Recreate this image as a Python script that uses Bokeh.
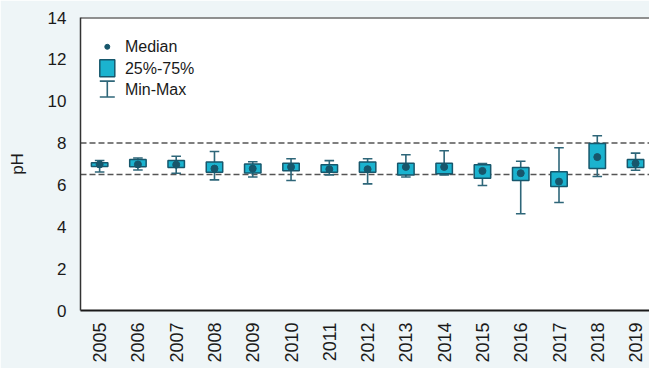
import numpy as np
from bokeh.plotting import figure
from bokeh.models import Range1d, FixedTicker, Span, ColumnDataSource
from bokeh.embed import file_html
from bokeh.resources import INLINE
from bokeh.core.properties import value

# ---- data ----
years = ["2005", "2006", "2007", "2008", "2009", "2010", "2011", "2012",
         "2013", "2014", "2015", "2016", "2017", "2018", "2019"]
median = [6.98, 6.98, 6.97, 6.78, 6.78, 6.86, 6.75, 6.75, 6.86, 6.86, 6.67, 6.56, 6.16, 7.33, 7.03]
q25 = [6.88, 6.87, 6.83, 6.60, 6.57, 6.68, 6.60, 6.60, 6.48, 6.54, 6.32, 6.21, 5.92, 6.78, 6.83]
q75 = [7.06, 7.22, 7.17, 7.10, 7.00, 7.03, 6.97, 7.10, 7.03, 7.03, 6.97, 6.83, 6.63, 7.98, 7.21]
vmin = [6.62, 6.71, 6.56, 6.24, 6.38, 6.21, 6.48, 6.05, 6.38, 6.48, 5.97, 4.62, 5.16, 6.40, 6.70]
vmax = [7.17, 7.29, 7.37, 7.60, 7.11, 7.25, 7.16, 7.25, 7.44, 7.63, 7.02, 7.13, 7.78, 8.35, 7.52]
limits = [6.5, 8.0]
y_ticks = [0, 2, 4, 6, 8, 10, 12, 14]
legend_labels = ["Median", "25%-75%", "Min-Max"]

# ---- style ----
FONT = "Liberation Sans"
BG = "#EEF5F7"
FILL = "#1BB3CF"
LINE = "#17576C"
MED = "#17566B"
WHISK = "#2E6679"
TXT = "#1a1a1a"
BOX_W = 0.43
CAP_W = 0.25

x = np.arange(len(years))
src = ColumnDataSource(dict(
    x=x, med=median, q1=q25, q3=q75, lo=vmin, hi=vmax,
    cl=x - CAP_W / 2, cr=x + CAP_W / 2,
))

p = figure(width=649, height=368,
           x_range=Range1d(-0.5, 14.364), y_range=Range1d(0, 14),
           output_backend="svg", toolbar_location=None,
           min_border_left=80, min_border_right=0,
           min_border_top=17, min_border_bottom=58,
           background_fill_color="white", border_fill_color=BG,
           outline_line_color=None)
p.grid.visible = False

for lim in limits:
    p.add_layout(Span(location=lim, dimension="width", line_color="#555555",
                      line_width=1.5, line_dash="6 3", level="underlay"))
p.add_layout(Span(location=14, dimension="width", line_color="#222222", line_width=2))

# whiskers
p.segment(x0="x", y0="lo", x1="x", y1="hi", source=src, line_color=WHISK, line_width=1.6)
p.segment(x0="cl", y0="lo", x1="cr", y1="lo", source=src, line_color=WHISK, line_width=1.6)
p.segment(x0="cl", y0="hi", x1="cr", y1="hi", source=src, line_color=WHISK, line_width=1.6)
# boxes
p.vbar(x="x", bottom="q1", top="q3", width=BOX_W, source=src,
       fill_color=FILL, line_color=LINE, line_width=1.5)
# medians
p.scatter(x="x", y="med", source=src, size=7, color=MED)

# ---- legend (drawn inside the plot, top-left) ----
LEG_X = 0.2
LEG_TX = 0.66
LEG_Y = [12.6, 11.58, 10.58]
LEG_HALF = 0.38
p.scatter(x=[LEG_X], y=[LEG_Y[0]], size=5, color=MED)
p.rect(x=[LEG_X], y=[LEG_Y[1]], width=15, height=17, width_units="screen",
       height_units="screen", fill_color=FILL, line_color=LINE, line_width=1.5)
p.segment(x0=[LEG_X], y0=[LEG_Y[2] - LEG_HALF], x1=[LEG_X], y1=[LEG_Y[2] + LEG_HALF],
          line_color=WHISK, line_width=1.6)
p.scatter(x=[LEG_X, LEG_X], y=[LEG_Y[2] - LEG_HALF, LEG_Y[2] + LEG_HALF],
          marker="dash", size=15, line_color=WHISK, line_width=1.6)
p.text(x=[LEG_TX] * 3, y=LEG_Y, text=legend_labels, text_font=value(FONT),
       text_font_size="16px", text_baseline="middle", text_align="left",
       text_color=TXT)

# ---- axes ----
p.xaxis.ticker = FixedTicker(ticks=list(range(len(years))))
p.xaxis.major_label_overrides = {i: y for i, y in enumerate(years)}
p.xaxis.major_label_orientation = np.pi / 2
p.xaxis.major_label_standoff = 12
p.xaxis.axis_line_color = "#1a1a1a"
p.xaxis.axis_line_width = 2

p.yaxis.ticker = FixedTicker(ticks=y_ticks)
p.yaxis.major_label_standoff = 14
p.yaxis.axis_line_color = "#333333"
p.yaxis.axis_line_width = 1.5
p.yaxis.axis_label = "pH"
p.yaxis.axis_label_standoff = 18
p.yaxis.axis_label_text_font_style = "normal"
p.yaxis.axis_label_text_font = FONT
p.yaxis.axis_label_text_font_size = "17px"
p.yaxis.axis_label_text_color = TXT

for ax in (p.xaxis, p.yaxis):
    ax.major_tick_line_color = None
    ax.minor_tick_line_color = None
    ax.major_tick_out = 0
    ax.major_tick_in = 0
    ax.major_label_text_font = FONT
    ax.major_label_text_color = TXT
p.xaxis.major_label_text_font_size = "18px"
p.yaxis.major_label_text_font_size = "17px"

open("out.html", "w").write(file_html(p, INLINE))
